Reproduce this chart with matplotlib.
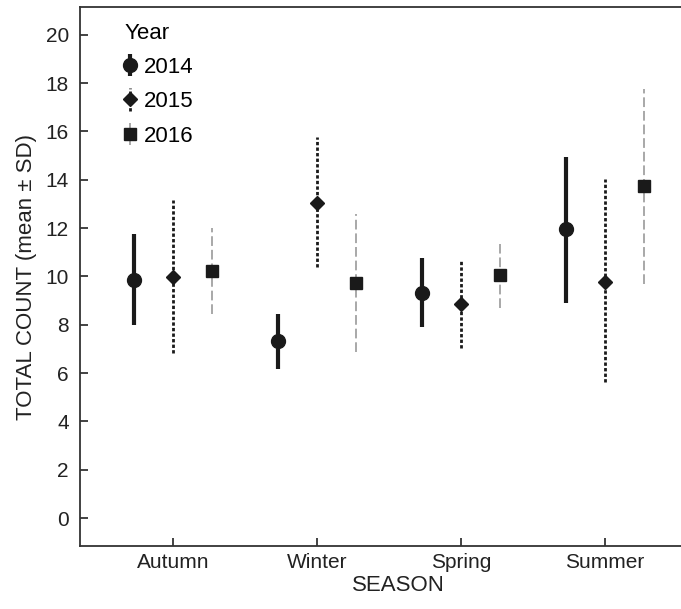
import matplotlib
matplotlib.use("Agg")
import matplotlib.pyplot as plt
import numpy as np

plt.rcParams['font.family'] = ['Liberation Sans', 'DejaVu Sans']

seasons = ["Autumn", "Winter", "Spring", "Summer"]
years = ["2014", "2015", "2016"]
means = {
    "2014": [9.85, 7.33, 9.33, 11.95],
    "2015": [9.97, 13.03, 8.87, 9.75],
    "2016": [10.22, 9.72, 10.04, 13.73],
}
upper = {
    "2014": [11.77, 8.44, 10.77, 14.95],
    "2015": [13.17, 15.78, 10.67, 14.03],
    "2016": [12.0, 12.57, 11.36, 17.76],
}
lower = {
    "2014": [7.99, 6.18, 7.9, 8.9],
    "2015": [6.83, 10.38, 7.03, 5.64],
    "2016": [8.44, 6.89, 8.7, 9.69],
}

styles = {
    "2014": dict(marker='o', ms=10, lw=3.0, color='#1a1a1a', ls='-'),
    "2015": dict(marker='D', ms=7.5, lw=2.0, color='#1a1a1a', ls=(0, (1.2, 0.8))),
    "2016": dict(marker='s', ms=8.5, lw=1.4, color='#a8a8a8', ls=(0, (5, 2))),
}
offsets = {"2014": -0.27, "2015": 0.0, "2016": 0.27}

fig = plt.figure(figsize=(6.81, 6.09), dpi=100)
ax = fig.add_axes([0.1175, 0.1034, 0.934, 0.8851])

x = np.arange(len(seasons))
for yr in years:
    st = styles[yr]
    m = np.array(means[yr])
    yerr = [m - np.array(lower[yr]), np.array(upper[yr]) - m]
    cont = ax.errorbar(x + offsets[yr], m, yerr=yerr, fmt=st['marker'], ms=st['ms'],
                       mfc='#1a1a1a', mec='#1a1a1a', ecolor=st['color'], elinewidth=st['lw'],
                       capsize=0, label=yr, zorder=3)
    for lc in cont[2]:
        lc.set_linestyle(st['ls'])

ax.set_xlim(-0.646, 3.771)
ax.set_ylim(-1.16, 21.15)
ax.set_xticks(x)
ax.set_xticklabels(seasons)
ax.set_yticks(np.arange(0, 21, 2))
ax.tick_params(direction='in', length=6, width=1.2, labelsize=15, colors='#222222', pad=5)
ax.tick_params(axis='y', pad=8)
for s in ax.spines.values():
    s.set_linewidth(1.3)
    s.set_color('#333333')
ax.spines['right'].set_visible(False)
ax.set_xlabel("SEASON", fontsize=16, color='#222222', labelpad=2)
ax.set_ylabel("TOTAL COUNT (mean \u00b1 SD)", fontsize=16, color='#222222', labelpad=6)

leg = ax.legend(title="Year", loc='upper left', frameon=False, fontsize=16, title_fontsize=16,
                handlelength=0.5, handletextpad=0.4, borderaxespad=0.3, labelspacing=0.6,
                bbox_to_anchor=(0.045, 1.0))
leg._legend_box.align = "left"

fig.savefig("out.png", dpi=100)
